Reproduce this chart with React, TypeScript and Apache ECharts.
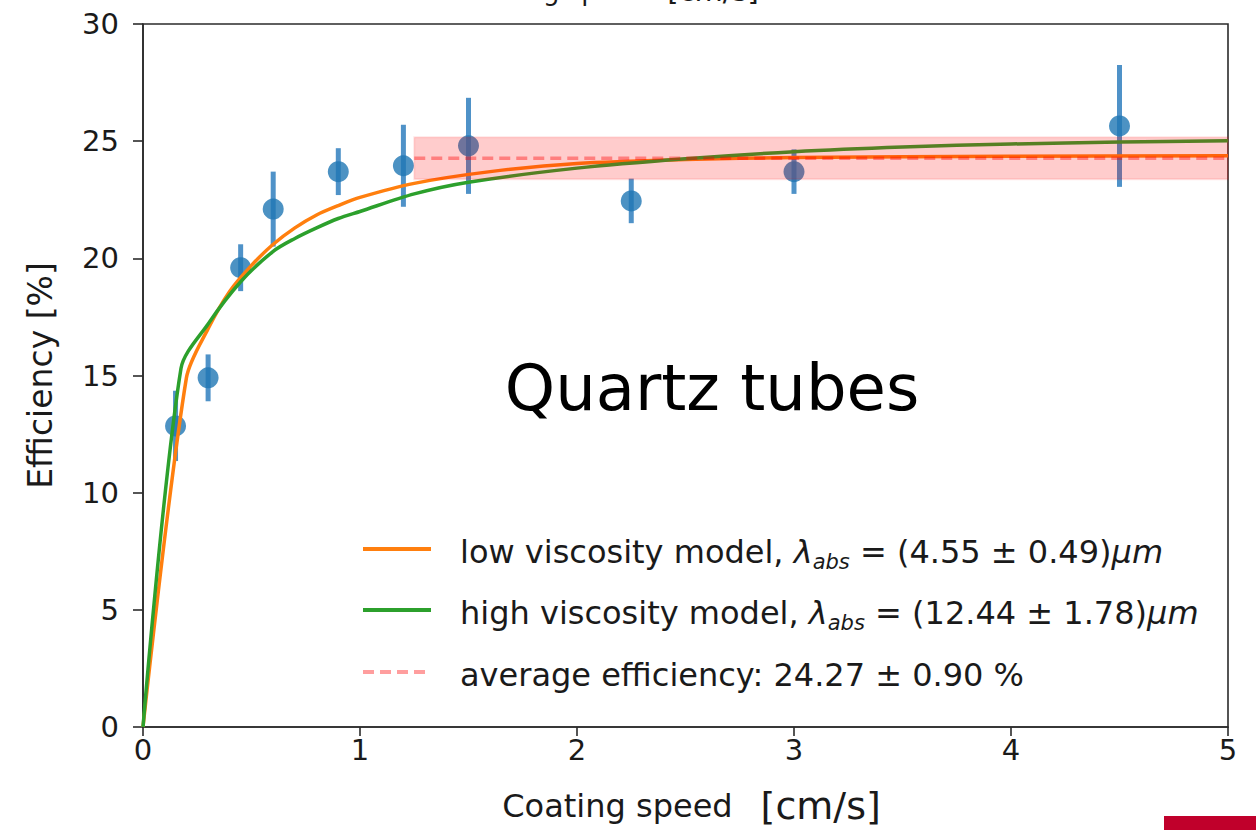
import React, { useEffect, useRef } from "react";
import * as echarts from "echarts";

// Measured efficiency vs. coating speed (quartz tubes)
const speeds = [0.15, 0.3, 0.45, 0.6, 0.9, 1.2, 1.5, 2.25, 3.0, 4.5];
const efficiency = [12.85, 14.9, 19.6, 22.1, 23.7, 23.95, 24.8, 22.45, 23.7, 25.65];
const efficiencyErr = [1.5, 1.0, 1.0, 1.6, 1.0, 1.75, 2.05, 0.95, 0.95, 2.6];

// Model curves, sampled along coating speed
const lowViscX = [0, 0.2, 0.3, 0.4, 0.5, 0.6, 0.7, 0.8, 0.9, 1.0, 1.25, 1.6, 2.0, 2.5, 3.0, 4.0, 5.0];
const lowViscY = [0, 14.9, 17.0, 18.6, 19.7, 20.6, 21.3, 21.85, 22.25, 22.6, 23.2, 23.7, 24.05, 24.22, 24.3, 24.36, 24.38];
const highViscX = [0, 0.175, 0.3, 0.45, 0.6, 0.7, 0.8, 0.9, 1.0, 1.25, 1.5, 2.0, 2.5, 3.0, 3.5, 4.0, 4.5, 5.0];
const highViscY = [0, 15.3, 17.2, 19.0, 20.3, 20.85, 21.3, 21.7, 22.0, 22.75, 23.25, 23.85, 24.25, 24.55, 24.75, 24.88, 24.96, 25.02];

// Average efficiency band
const avgEff = 24.27;
const avgErr = 0.9;
const bandStart = 1.25;

// Fitted absorption lengths
const lowLambda = "4.55";
const lowLambdaErr = "0.49";
const highLambda = "12.44";
const highLambdaErr = "1.78";

const xTicks = { min: 0, max: 5, interval: 1 };
const yTicks = { min: 0, max: 30, interval: 5 };

const lowName = `low viscosity model, λabs = (${lowLambda} ± ${lowLambdaErr})μm`;
const highName = `high viscosity model, λabs = (${highLambda} ± ${highLambdaErr})μm`;
const avgName = `average efficiency: ${avgEff.toFixed(2)} ± ${avgErr.toFixed(2)} %`;

const FONT = "'DejaVu Sans', sans-serif";
const INK = "#1a1a1a";
const ORANGE = "#ff7f0e";
const GREEN = "#2ca02c";
const AVG_RED = "rgba(255,0,0,0.38)";

export default function App() {
  const ref = useRef<HTMLDivElement>(null);

  useEffect(() => {
    if (!ref.current) return;
    const chart = echarts.init(ref.current, undefined, { renderer: "svg" });

    const pointData = speeds.map((s, i) => [s, efficiency[i], efficiencyErr[i]]);

    const legendRich = {
      n: { fontSize: 32, fill: INK, fontFamily: FONT, lineHeight: 40 },
      it: { fontSize: 32, fill: INK, fontFamily: FONT, fontStyle: "italic", lineHeight: 40 },
      sub: { fontSize: 21, fill: INK, fontFamily: FONT, fontStyle: "italic", verticalAlign: "bottom", lineHeight: 21 },
    };
    const legendRows = [
      {
        name: lowName,
        text: `{n|low viscosity model, }{it|λ}{sub|abs}{n| = (${lowLambda} ± ${lowLambdaErr})}{it|μm}`,
        color: ORANGE,
        dash: null as number[] | null,
        y: 549,
      },
      {
        name: highName,
        text: `{n|high viscosity model, }{it|λ}{sub|abs}{n| = (${highLambda} ± ${highLambdaErr})}{it|μm}`,
        color: GREEN,
        dash: null as number[] | null,
        y: 610,
      },
      {
        name: avgName,
        text: `{n|${avgName}}`,
        color: AVG_RED,
        dash: [11, 6],
        y: 672,
      },
    ];
    const legendGraphics = legendRows.flatMap((row) => [
      {
        type: "line",
        shape: { x1: 363, y1: row.y, x2: 431, y2: row.y },
        style: { stroke: row.color, lineWidth: 4, lineDash: row.dash ?? undefined },
        z: 10,
      },
      {
        type: "text",
        x: 460,
        y: row.y + 3,
        z: 10,
        style: {
          text: row.text,
          rich: legendRich,
          align: "left",
          verticalAlign: "middle",
        },
      },
    ]);

    chart.setOption({
      animation: false,
      backgroundColor: "#ffffff",
      textStyle: { fontFamily: FONT },
      grid: {
        left: 143,
        right: 28,
        top: 24,
        bottom: 100,
        show: true,
        borderColor: "#2b2b2b",
        borderWidth: 1.6,
        backgroundColor: "transparent",
      },
      xAxis: {
        type: "value",
        ...xTicks,
        name: "{a|Coating speed}{b|[cm/s]}",
        nameLocation: "middle",
        nameGap: 60,
        nameTextStyle: {
          rich: {
            a: { fontSize: 32, color: INK, fontFamily: FONT, padding: [0, 0, 0, 12] },
            b: { fontSize: 38, color: INK, fontFamily: FONT, padding: [0, 0, 0, 28] },
          },
        },
        axisLine: { lineStyle: { color: "#2b2b2b", width: 1.6 } },
        axisTick: { length: 9, lineStyle: { color: "#2b2b2b", width: 1.6 } },
        axisLabel: { fontSize: 29, color: INK, margin: 8, fontFamily: FONT },
        splitLine: { show: false },
      },
      yAxis: {
        type: "value",
        ...yTicks,
        name: "Efficiency [%]",
        nameLocation: "middle",
        nameGap: 86,
        nameTextStyle: { fontSize: 33, color: INK, fontFamily: FONT },
        axisLine: { lineStyle: { color: "#2b2b2b", width: 1.6 } },
        axisTick: { length: 10, lineStyle: { color: "#2b2b2b", width: 1.6 } },
        axisLabel: { fontSize: 29, color: INK, margin: 24, fontFamily: FONT },
        splitLine: { show: false },
      },
      series: [
        {
          name: "error bars",
          type: "custom",
          z: 1,
          data: pointData,
          encode: { x: 0, y: 1 },
          renderItem: (_params: any, api: any) => {
            const x = api.value(0);
            const y = api.value(1);
            const e = api.value(2);
            const top = api.coord([x, y + e]);
            const bot = api.coord([x, y - e]);
            return {
              type: "line",
              shape: { x1: top[0], y1: top[1], x2: bot[0], y2: bot[1] },
              style: { stroke: "#4f92c8", lineWidth: 5 },
            };
          },
        },
        {
          name: "measurements",
          type: "scatter",
          z: 2,
          data: pointData.map((d) => [d[0], d[1]]),
          symbol: "circle",
          symbolSize: 21,
          itemStyle: { color: "#1f77b4" },
        },
        {
          name: lowName,
          type: "line",
          z: 3,
          data: lowViscX.map((x, i) => [x, lowViscY[i]]),
          symbol: "none",
          smooth: 0.3,
          lineStyle: { color: ORANGE, width: 3.5 },
        },
        {
          name: highName,
          type: "line",
          z: 3,
          data: highViscX.map((x, i) => [x, highViscY[i]]),
          symbol: "none",
          smooth: 0.3,
          lineStyle: { color: GREEN, width: 3.5 },
        },
        {
          name: avgName,
          type: "line",
          z: 3,
          data: [
            [bandStart, avgEff],
            [xTicks.max, avgEff],
          ],
          symbol: "none",
          lineStyle: { color: AVG_RED, width: 3.5, type: [11, 6] },
        },
        {
          name: "average band",
          type: "custom",
          z: 5,
          data: [[bandStart, xTicks.max, avgEff - avgErr, avgEff + avgErr]],
          encode: { x: [0, 1], y: [2, 3] },
          renderItem: (_params: any, api: any) => {
            const p0 = api.coord([api.value(0), api.value(2)]);
            const p1 = api.coord([api.value(1), api.value(3)]);
            return {
              type: "rect",
              shape: { x: p0[0], y: p1[1], width: p1[0] - p0[0], height: p0[1] - p1[1] },
              style: { fill: "rgba(255,0,0,0.2)", stroke: "rgba(255,0,0,0.1)", lineWidth: 2 },
            };
          },
        },
      ],
      graphic: [
        ...legendGraphics,
        {
          type: "text",
          x: 712,
          y: 388,
          style: {
            text: "Quartz tubes",
            fontSize: 64,
            fontFamily: FONT,
            fill: "#000",
            align: "center",
            verticalAlign: "middle",
          },
        },
        {
          type: "text",
          x: 459,
          y: -9,
          style: {
            text: "{a|Coating speed}{b|[cm/s]}",
            rich: {
              a: { fontSize: 26, fontFamily: FONT, fill: INK },
              b: { fontSize: 29, fontFamily: FONT, fill: INK, padding: [0, 0, 0, 21] },
            },
            align: "left",
            verticalAlign: "middle",
          },
        },
        {
          type: "rect",
          shape: { x: 1164, y: 816, width: 92, height: 14 },
          style: { fill: "#c0002b" },
        },
      ],
    });

    return () => chart.dispose();
  }, []);

  return (
    <div
      ref={ref}
      style={{ position: "absolute", left: 0, top: 0, width: 1256, height: 830 }}
    />
  );
}
